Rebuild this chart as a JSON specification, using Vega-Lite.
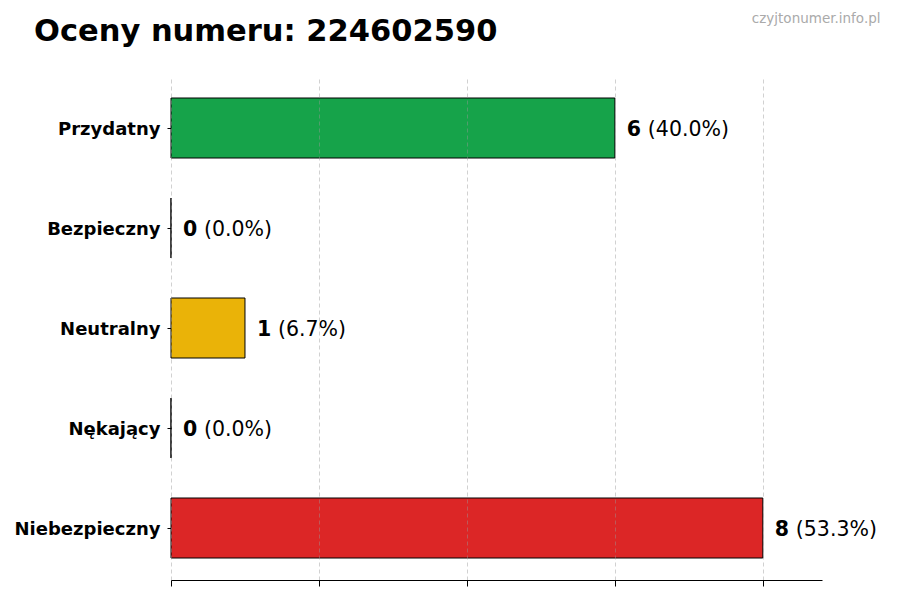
{
  "$schema": "https://vega.github.io/schema/vega-lite/v6.json",
  "width": 651,
  "height": 504,
  "autosize": {"type": "none"},
  "padding": {"left": 171, "top": 76, "right": 78, "bottom": 20},
  "background": "white",
  "title": {
    "text": "Oceny numeru: 224602590",
    "anchor": "start",
    "frame": "group",
    "dx": -137,
    "offset": -60,
    "baseline": "alphabetic",
    "font": "DejaVu Sans",
    "fontSize": 30.5,
    "fontWeight": "bold",
    "color": "black"
  },
  "config": {"view": {"stroke": null}, "font": "DejaVu Sans"},
  "data": {
    "values": [
      {"kategoria": "Przydatny", "liczba": 6, "procent": "(40.0%)"},
      {"kategoria": "Bezpieczny", "liczba": 0, "procent": "(0.0%)"},
      {"kategoria": "Neutralny", "liczba": 1, "procent": "(6.7%)"},
      {"kategoria": "Nękający", "liczba": 0, "procent": "(0.0%)"},
      {"kategoria": "Niebezpieczny", "liczba": 8, "procent": "(53.3%)"}
    ]
  },
  "encoding": {
    "y": {
      "field": "kategoria",
      "type": "nominal",
      "sort": null,
      "scale": {"paddingInner": 0.4, "paddingOuter": 0.22},
      "axis": {
        "title": "czyjtonumer.info.pl",
        "titleAngle": 0,
        "titleX": 709,
        "titleY": -54,
        "titleAlign": "right",
        "titleBaseline": "alphabetic",
        "titleFont": "DejaVu Sans",
        "titleFontSize": 13.5,
        "titleFontWeight": "normal",
        "titleColor": "#aaaaaa",
        "labelFont": "DejaVu Sans",
        "labelFontSize": 18,
        "labelFontWeight": "bold",
        "labelColor": "black",
        "labelPadding": 7,
        "labelOffset": 1.5,
        "tickSize": 4,
        "tickColor": "black",
        "domain": false,
        "grid": false
      }
    },
    "x": {
      "field": "liczba",
      "type": "quantitative",
      "scale": {"domain": [0, 8.8], "nice": false},
      "axis": {
        "title": null,
        "values": [0, 2, 4, 6, 8],
        "labels": false,
        "tickSize": 6,
        "tickColor": "black",
        "domainColor": "black",
        "grid": true,
        "gridColor": "#999999",
        "gridOpacity": 0.45,
        "gridDash": [4, 3],
        "zindex": 1
      }
    }
  },
  "layer": [
    {
      "mark": {"type": "bar", "stroke": "black", "strokeWidth": 1},
      "encoding": {
        "color": {
          "field": "kategoria",
          "type": "nominal",
          "scale": {
            "domain": ["Przydatny", "Bezpieczny", "Neutralny", "Nękający", "Niebezpieczny"],
            "range": ["#16a34a", "#2563eb", "#eab308", "#f97316", "#dc2626"]
          },
          "legend": null
        }
      }
    },
    {
      "mark": {"type": "text", "align": "left", "baseline": "middle", "dx": 12, "dy": 1.5, "fontSize": 20.5, "fontWeight": "bold", "color": "black"},
      "encoding": {"text": {"field": "liczba", "type": "quantitative"}}
    },
    {
      "mark": {"type": "text", "align": "left", "baseline": "middle", "dx": 33, "dy": 1.5, "fontSize": 20.5, "color": "black"},
      "encoding": {"text": {"field": "procent", "type": "nominal"}}
    }
  ]
}
